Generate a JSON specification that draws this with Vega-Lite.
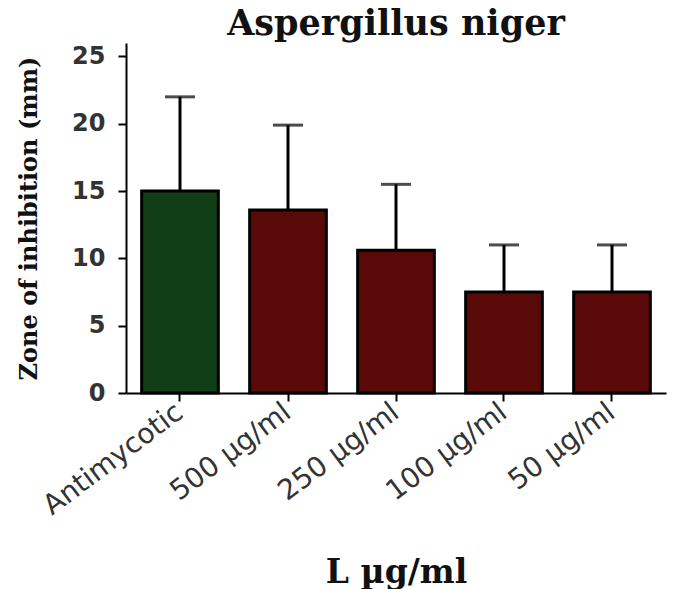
{
  "$schema": "https://vega.github.io/schema/vega-lite/v6.json",
  "width": 540,
  "height": 350,
  "autosize": {"type": "none"},
  "padding": {"left": 126, "top": 43, "right": 7, "bottom": 196},
  "background": "white",
  "view": {"stroke": null},
  "title": {
    "text": "Aspergillus niger",
    "font": "DejaVu Serif",
    "fontSize": 35,
    "fontWeight": "bold",
    "color": "#111",
    "anchor": "middle",
    "offset": 1
  },
  "data": {
    "values": [
      {"group": "Antimycotic", "mean": 15.0, "upper": 22.0, "kind": "control"},
      {"group": "500 µg/ml", "mean": 13.6, "upper": 19.9, "kind": "extract"},
      {"group": "250 µg/ml", "mean": 10.6, "upper": 15.5, "kind": "extract"},
      {"group": "100 µg/ml", "mean": 7.5, "upper": 11.0, "kind": "extract"},
      {"group": "50 µg/ml", "mean": 7.5, "upper": 11.0, "kind": "extract"}
    ]
  },
  "encoding": {
    "x": {
      "field": "group",
      "type": "nominal",
      "sort": null,
      "scale": {"paddingInner": 0.29, "paddingOuter": 0.145},
      "axis": {
        "title": "L µg/ml",
        "titleFont": "DejaVu Serif",
        "titleFontSize": 33,
        "titleFontWeight": "bold",
        "titleColor": "#111",
        "titleY": 189,
        "titleBaseline": "alphabetic",
        "labelAngle": -37,
        "labelAlign": "right",
        "labelBaseline": "middle",
        "labelFont": "DejaVu Sans",
        "labelFontSize": 28,
        "labelColor": "#333",
        "labelPadding": 8,
        "domainColor": "#000",
        "domainWidth": 2,
        "tickColor": "#000",
        "tickWidth": 2,
        "tickSize": 8
      }
    }
  },
  "layer": [
    {
      "mark": {"type": "bar", "stroke": "#000", "strokeWidth": 3},
      "encoding": {
        "y": {
          "field": "mean",
          "type": "quantitative",
          "scale": {"domain": [0, 25]},
          "axis": {
            "title": "Zone of inhibition (mm)",
            "titleFont": "DejaVu Serif",
            "titleFontSize": 24,
            "titleFontWeight": "bold",
            "titleColor": "#111",
            "titlePadding": 30,
            "values": [0, 5, 10, 15, 20, 25],
            "grid": false,
            "labelFont": "DejaVu Sans",
            "labelFontSize": 24,
            "labelFontWeight": "bold",
            "labelColor": "#333",
            "labelPadding": 13,
            "domainColor": "#000",
            "domainWidth": 2,
            "tickColor": "#000",
            "tickWidth": 2,
            "tickSize": 8
          }
        },
        "color": {
          "field": "kind",
          "type": "nominal",
          "scale": {"domain": ["control", "extract"], "range": ["#113d17", "#5a0909"]},
          "legend": null
        }
      }
    },
    {
      "mark": {"type": "rule", "color": "#000", "strokeWidth": 3},
      "encoding": {
        "y": {"field": "mean", "type": "quantitative"},
        "y2": {"field": "upper"}
      }
    },
    {
      "mark": {"type": "tick", "color": "#000", "thickness": 3, "size": 30, "orient": "horizontal"},
      "encoding": {
        "y": {"field": "upper", "type": "quantitative"}
      }
    }
  ]
}
